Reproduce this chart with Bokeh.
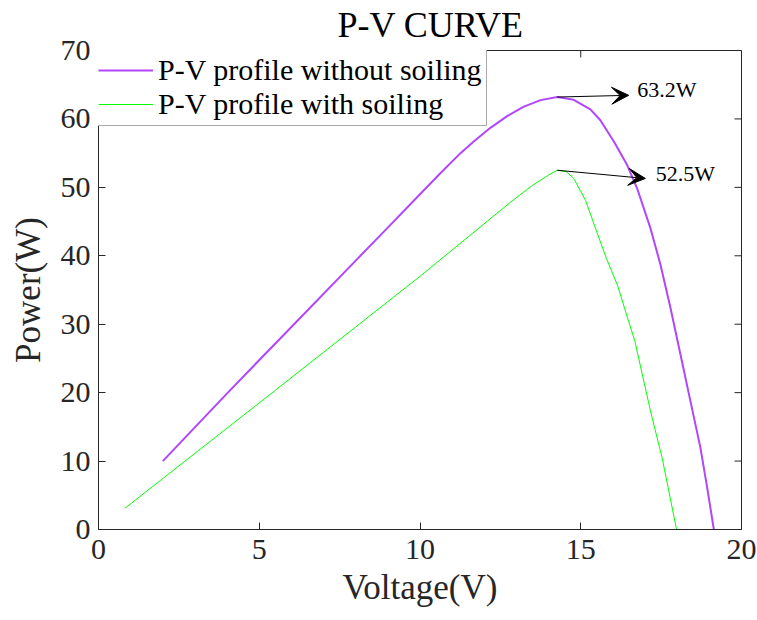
import math
from bokeh.plotting import figure
from bokeh.models import Arrow, VeeHead, Label, ColumnDataSource
from bokeh.embed import file_html
from bokeh.resources import INLINE

# P-V characteristic of the module without soiling
v_clean = [2.0, 4.0, 6.0, 8.0, 8.87, 10.0, 10.64, 11.26, 11.67, 12.19, 12.71, 13.23,
           13.75, 14.27, 14.78, 15.30, 15.61, 16.03, 16.44, 16.75, 17.17, 17.48,
           17.79, 18.10, 18.41, 18.72, 18.93, 19.14]
p_clean = [10.0, 19.9, 29.6, 39.3, 43.5, 49.0, 52.1, 55.0, 56.7, 58.7, 60.4, 61.8,
           62.75, 63.2, 62.8, 61.4, 59.8, 56.7, 53.3, 49.9, 44.0, 38.7,
           32.4, 25.6, 18.8, 12.0, 6.2, 0.0]

# P-V characteristic of the soiled module
v_soiled = [0.82, 5.0, 10.0, 12.86, 13.5, 14.0, 14.27, 14.55, 14.78, 15.15, 15.46,
            15.8, 16.15, 16.45, 16.68, 17.17, 17.53, 17.98]
p_soiled = [3.1, 18.5, 37.0, 48.0, 50.3, 51.8, 52.5, 52.3, 51.3, 48.1, 44.0,
            39.6, 35.6, 31.0, 27.6, 17.3, 10.5, 0.0]

series_labels = ["P-V profile without soiling", "P-V profile with soiling"]

# where the callout arrows end and their texts sit (V, W)
callout_tips = [(16.49, 63.45), (17.01, 51.3)]
callout_text_pos = [(16.76, 64.3), (17.33, 52.0)]

x_ticks = [0, 5, 10, 15, 20]
y_ticks = [0, 10, 20, 30, 40, 50, 60, 70]

FONT = "Liberation Serif"
AXIS_COLOR = "#262626"
PURPLE = "#b146ff"
GREEN = "#00ff00"
TICK_LEN = 7

p = figure(width=757, height=620, x_range=(0, 20), y_range=(0, 70),
           output_backend="svg", toolbar_location=None,
           min_border_left=98, min_border_right=16,
           min_border_top=48, min_border_bottom=91)

p.title.text = "P-V CURVE"
p.title.align = "left"
p.title.offset = 239
p.title.vertical_align = "top"
p.title.standoff = 8
p.title.text_font = FONT
p.title.text_font_size = "36px"
p.title.text_font_style = "normal"
p.title.text_color = "black"

p.grid.visible = False
p.outline_line_color = AXIS_COLOR
p.outline_line_width = 1
p.background_fill_color = "white"
p.border_fill_color = "white"

for ax, ticks in ((p.xaxis[0], x_ticks), (p.yaxis[0], y_ticks)):
    ax.ticker = ticks
    ax.major_label_text_font = FONT
    ax.major_label_text_font_size = "30px"
    ax.major_label_text_color = AXIS_COLOR
    ax.axis_label_text_font = FONT
    ax.axis_label_text_font_size = "35px"
    ax.axis_label_text_font_style = "normal"
    ax.axis_label_text_color = AXIS_COLOR
    ax.axis_line_color = AXIS_COLOR
    ax.major_tick_line_color = AXIS_COLOR
    ax.major_tick_in = TICK_LEN
    ax.major_tick_out = 0
    ax.minor_tick_line_color = None

p.xaxis[0].axis_label = "Voltage(V)"
p.yaxis[0].axis_label = "Power(W)"
p.xaxis[0].major_label_standoff = 10
p.yaxis[0].major_label_standoff = 8
p.xaxis[0].axis_label_standoff = 6
p.yaxis[0].axis_label_standoff = 10

# inward tick marks along the top and right edges of the box
top = p.y_range.end
right = p.x_range.end
p.ray(x=x_ticks, y=[top] * len(x_ticks), length=TICK_LEN, length_units="screen",
      angle=-math.pi / 2, line_color=AXIS_COLOR, line_width=1)
p.ray(x=[right] * len(y_ticks), y=y_ticks, length=TICK_LEN, length_units="screen",
      angle=math.pi, line_color=AXIS_COLOR, line_width=1)

src_clean = ColumnDataSource(dict(v=v_clean, p=p_clean))
src_soiled = ColumnDataSource(dict(v=v_soiled, p=p_soiled))

p.line("v", "p", source=src_clean, line_color=PURPLE, line_width=2,
       legend_label=series_labels[0])
p.line("v", "p", source=src_soiled, line_color=GREEN, line_width=1,
       legend_label=series_labels[1])

# callouts from each curve's maximum power point
for (vs, ps), tip, txt in zip(((v_clean, p_clean), (v_soiled, p_soiled)),
                              callout_tips, callout_text_pos):
    i = ps.index(max(ps))
    p.add_layout(Arrow(x_start=vs[i], y_start=ps[i], x_end=tip[0], y_end=tip[1],
                       line_color="black", line_width=1,
                       end=VeeHead(size=17, fill_color="black", line_color="black")))
    p.add_layout(Label(x=txt[0], y=txt[1], text=f"{ps[i]:.1f}W",
                       text_font=FONT, text_font_size="22px",
                       text_baseline="middle", text_color="black"))

lg = p.legend[0]
lg.location = (-5, 403)
lg.label_text_font = FONT
lg.label_text_font_size = "30px"
lg.label_text_color = "black"
lg.glyph_width = 55
lg.glyph_height = 34
lg.label_height = 34
lg.label_standoff = 5
lg.padding = 4
lg.spacing = 0
lg.margin = 0
lg.border_line_color = "#555555"
lg.border_line_width = 1
lg.background_fill_color = "white"
lg.background_fill_alpha = 1.0

open("out.html", "w").write(file_html(p, INLINE))
